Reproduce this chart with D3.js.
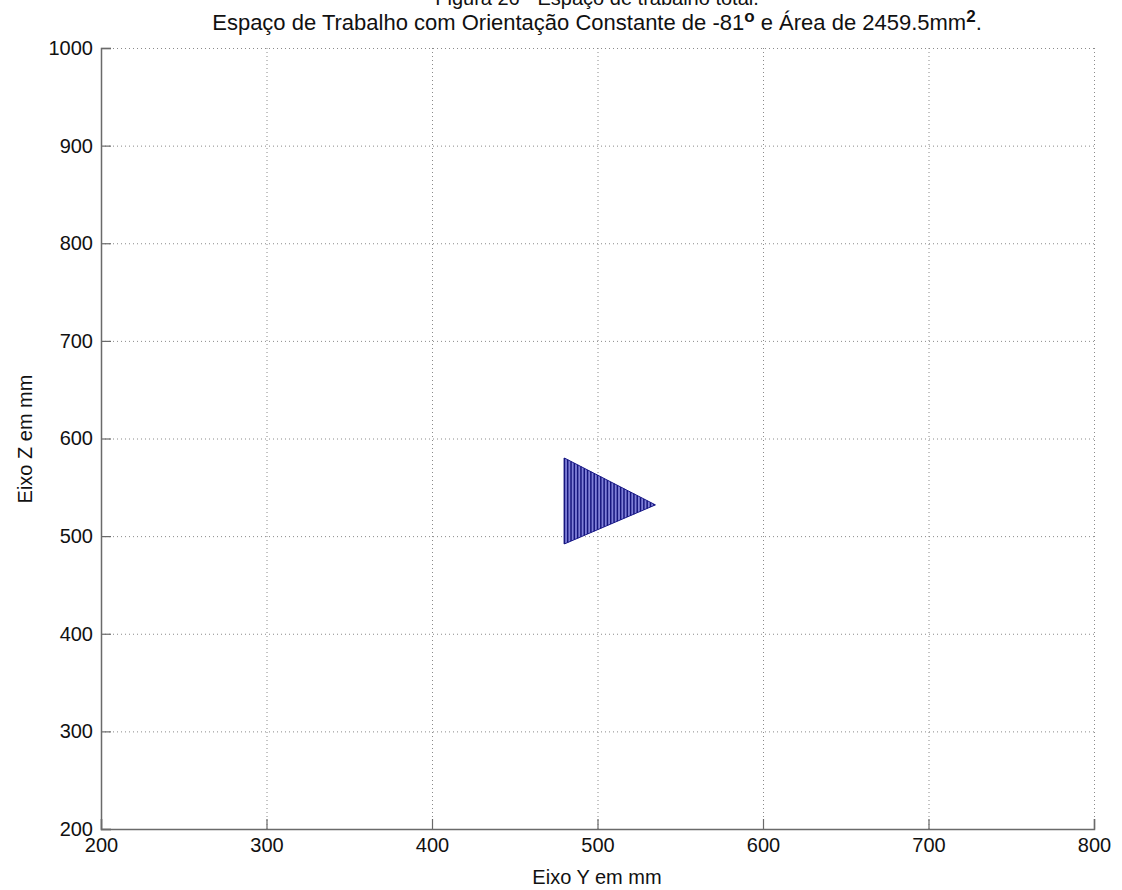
<!DOCTYPE html>
<html><head><meta charset="utf-8">
<script src="https://cdn.jsdelivr.net/npm/d3@7"></script>
<style>body{margin:0;background:#fff}svg{display:block}text{font-family:"Liberation Sans",Arial,sans-serif;fill:#111}</style>
</head><body><svg id="c" width="1122" height="890"></svg>
<script>
// Data: vertical hatch lines filling the workspace triangle (Y in mm, Z top/bottom in mm)
const lineY =   [480,482,484,486,488,490,492,494,496,498,500,502,504,506,508,510,512,514,516,518,520,522,524,526,528,530,532,534];
const lineTop = [580,578.3,576.5,574.8,573.0,571.3,569.5,567.8,566.0,564.3,562.5,560.8,559.0,557.3,555.5,553.8,552.1,550.3,548.6,546.8,545.1,543.3,541.6,539.8,538.1,536.3,534.6,532.9];
const lineBot = [492,493.5,494.9,496.4,497.8,499.3,500.7,502.2,503.6,505.1,506.5,508.0,509.5,510.9,512.4,513.8,515.3,516.7,518.2,519.6,521.1,522.5,524.0,525.5,526.9,528.4,529.8,531.3];
const outlineY = [480,535,480];
const outlineZ = [580,532,492];
const xTicks = [200,300,400,500,600,700,800];
const yTicks = [200,300,400,500,600,700,800,900,1000];
const titleTop = "Figura 26 - Espaço de trabalho total.";
const titleMain = "Espaço de Trabalho com Orientação Constante de -81";
const titleMid = " e Área de 2459.5mm";
const xLabel = "Eixo Y em mm";
const yLabel = "Eixo Z em mm";

const svg = d3.select("#c");
const L=101, R=1094, T=48, B=829;
const x = d3.scaleLinear().domain([200,800]).range([L,R]);
const y = d3.scaleLinear().domain([200,1000]).range([B,T]);

// grid
const g = svg.append("g");
g.selectAll("line.gx").data(xTicks.slice(1)).join("line")
  .attr("x1",d=>x(d)+0.5).attr("x2",d=>x(d)+0.5).attr("y1",T).attr("y2",B)
  .attr("stroke","#8a8a8a").attr("stroke-width",1).attr("stroke-dasharray","1,3");
g.selectAll("line.gy").data(yTicks.slice(1)).join("line")
  .attr("y1",d=>y(d)+0.5).attr("y2",d=>y(d)+0.5).attr("x1",L).attr("x2",R)
  .attr("stroke","#8a8a8a").attr("stroke-width",1).attr("stroke-dasharray","1,3");

// triangle fill (hatching)
const idx = d3.range(lineY.length);
svg.append("path")
  .attr("d", d3.line().x((d,i)=>x(outlineY[i])).y((d,i)=>y(outlineZ[i]))(outlineY)+"Z")
  .attr("fill","#8080d8").attr("stroke","#1a1a8a").attr("stroke-width",1);
svg.selectAll("line.h").data(idx).join("line")
  .attr("x1",i=>x(lineY[i])).attr("x2",i=>x(lineY[i]))
  .attr("y1",i=>y(lineTop[i])).attr("y2",i=>y(lineBot[i]))
  .attr("stroke","#16167e").attr("stroke-width",1.5);

// axes
const ax = svg.append("g").attr("transform",`translate(0,${B})`)
  .call(d3.axisBottom(x).tickValues(xTicks).tickSize(-10).tickPadding(9).tickFormat(d3.format("d")));
const ay = svg.append("g").attr("transform",`translate(${L},0)`)
  .call(d3.axisLeft(y).tickValues(yTicks).tickSize(-10).tickPadding(8).tickFormat(d3.format("d")));
[ax,ay].forEach(a=>{
  a.select(".domain").attr("stroke","#6a6a6a").attr("stroke-width",1.5);
  a.selectAll(".tick line").attr("stroke","#6a6a6a").attr("stroke-width",1.2);
  a.selectAll("text").attr("font-size",20).attr("fill","#111").attr("font-family","Liberation Sans, Arial, sans-serif");
});
ax.selectAll("text").attr("dy","0.71em");
ay.selectAll("text").attr("dy","0.32em");

// titles
svg.append("text").attr("x",597).attr("y",5).attr("text-anchor","middle").attr("font-size",20).text(titleTop);
const t2 = svg.append("text").attr("x",597).attr("y",30).attr("text-anchor","middle").attr("font-size",22);
t2.append("tspan").text(titleMain);
t2.append("tspan").attr("dy",-8).attr("font-size",17).attr("font-weight","bold").text("o");
t2.append("tspan").attr("dy",8).text(titleMid);
t2.append("tspan").attr("dy",-8).attr("font-size",17).attr("font-weight","bold").text("2");
t2.append("tspan").attr("dy",8).text(".");

svg.append("text").attr("x",597).attr("y",884).attr("text-anchor","middle").attr("font-size",20).text(xLabel);
svg.append("text").attr("transform","translate(32,439) rotate(-90)").attr("text-anchor","middle").attr("font-size",20).text(yLabel);
</script></body></html>
